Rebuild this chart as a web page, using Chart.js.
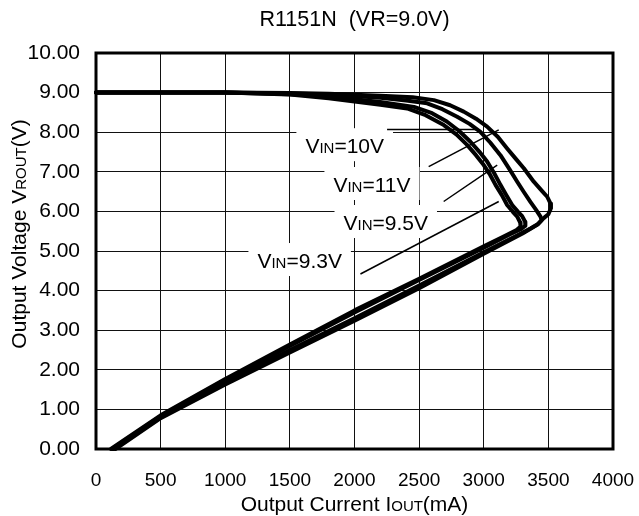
<!DOCTYPE html>
<html>
<head>
<meta charset="utf-8">
<script src="https://cdn.jsdelivr.net/npm/chart.js@4.4.1/dist/chart.umd.min.js"></script>
<style>
  html, body { margin: 0; padding: 0; background: #fff; }
  canvas { display: block; }
</style>
</head>
<body>
<canvas id="c" width="639" height="516"></canvas>
<script>
// ---------- data (Output current mA, Output voltage V) ----------
const xTicks = [0, 500, 1000, 1500, 2000, 2500, 3000, 3500, 4000];
const yTicks = [0, 1, 2, 3, 4, 5, 6, 7, 8, 9, 10];

const vin10_I = [0, 500, 1000, 1500, 1800, 2200, 2450, 2614, 2740, 2845, 2940, 3026, 3110, 3181, 3250, 3310, 3387, 3450, 3491, 3516, 3520, 3500, 3464, 3413, 3300, 3000, 2500, 2000, 1500, 1000, 500, 150];
const vin10_V = [9.0, 9.0, 9.0, 8.99, 8.97, 8.92, 8.88, 8.81, 8.68, 8.52, 8.34, 8.14, 7.88, 7.59, 7.32, 7.09, 6.75, 6.52, 6.37, 6.2, 6.08, 5.93, 5.83, 5.66, 5.44, 4.93, 4.06, 3.24, 2.44, 1.63, 0.78, 0];

const vin11_I = [0, 500, 1000, 1500, 1800, 2200, 2400, 2562, 2680, 2794, 2890, 2974, 3050, 3129, 3200, 3259, 3310, 3361, 3405, 3439, 3448, 3420, 3361, 3250, 3000, 2500, 2000, 1500, 1000, 500, 135];
const vin11_V = [9.0, 9.0, 9.0, 8.98, 8.95, 8.87, 8.8, 8.73, 8.58, 8.39, 8.21, 8.01, 7.74, 7.42, 7.06, 6.75, 6.49, 6.24, 6.04, 5.87, 5.78, 5.68, 5.57, 5.38, 4.97, 4.13, 3.3, 2.5, 1.69, 0.8, 0];

const vin95_I = [0, 500, 1000, 1500, 1800, 2200, 2460, 2600, 2714, 2810, 2897, 2965, 3026, 3080, 3129, 3175, 3220, 3262, 3297, 3320, 3322, 3290, 3200, 3000, 2500, 2000, 1500, 1000, 500, 125];
const vin95_V = [9.0, 9.0, 9.0, 8.96, 8.9, 8.76, 8.64, 8.48, 8.27, 8.03, 7.76, 7.51, 7.26, 6.97, 6.67, 6.41, 6.16, 6.0, 5.88, 5.74, 5.64, 5.56, 5.42, 5.08, 4.27, 3.45, 2.6, 1.74, 0.83, 0];

const vin93_I = [0, 500, 1000, 1500, 1800, 2200, 2407, 2550, 2691, 2790, 2871, 2940, 3000, 3050, 3091, 3140, 3181, 3225, 3259, 3282, 3285, 3250, 3150, 3000, 2500, 2000, 1500, 1000, 500, 115];
const vin93_V = [9.0, 9.0, 9.0, 8.95, 8.86, 8.69, 8.6, 8.43, 8.18, 7.94, 7.68, 7.42, 7.17, 6.92, 6.67, 6.41, 6.16, 5.99, 5.87, 5.72, 5.62, 5.52, 5.36, 5.12, 4.3, 3.5, 2.64, 1.77, 0.85, 0];

// curve labels and anchors (left x in mA, baseline in V)
const labelNames = ["VIN=10V", "VIN=11V", "VIN=9.5V", "VIN=9.3V"];
const labelAt_I = [1620, 1837, 1915, 1249];
const labelAt_V = [7.47, 6.49, 5.53, 4.57];
// leader lines: start (mA, V) -> end (mA, V)
const leaderFrom_I = [2574, 2690, 2046, 2252];
const leaderFrom_V = [7.13, 6.25, 4.42, 8.07];
const leaderTo_I = [3116, 3104, 3116, 2949];
const leaderTo_V = [8.06, 7.17, 6.25, 8.07];

const FONT = "'Liberation Sans', Arial, Helvetica, sans-serif";

function pts(xs, ys) { return xs.map((x, i) => ({ x: x, y: ys[i] })); }
function ds(label, xs, ys) {
  return { label: label, data: pts(xs, ys), showLine: true, borderColor: '#000', backgroundColor: '#000',
           borderWidth: 4, pointRadius: 0, fill: false, tension: 0, borderJoinStyle: 'round', borderCapStyle: 'round', clip: 4 };
}

function drawMixed(ctx, parts, x, y, align) {
  let w = 0;
  parts.forEach(p => { ctx.font = p[1] + 'px ' + FONT; w += ctx.measureText(p[0]).width; });
  let cx = align === 'center' ? x - w / 2 : x;
  ctx.textAlign = 'left';
  parts.forEach(p => { ctx.font = p[1] + 'px ' + FONT; ctx.fillText(p[0], cx, y); cx += ctx.measureText(p[0]).width; });
  return w;
}
function labelParts(name, big, small) {
  return [[name.slice(0, 1), big], [name.slice(1, 3), small], [name.slice(3), big]];
}

function noPad(s) { s.paddingLeft = 0; s.paddingRight = 0; s.paddingTop = 0; s.paddingBottom = 0; }

const decor = {
  id: 'decor',
  beforeDatasetsDraw(chart) {
    const ctx = chart.ctx, xs = chart.scales.x, ys = chart.scales.y;
    ctx.save();
    labelNames.forEach((n, i) => {
      const x = xs.getPixelForValue(labelAt_I[i]);
      const y = ys.getPixelForValue(labelAt_V[i]);
      let w = 0;
      labelParts(n, 21, 15).forEach(p => { ctx.font = p[1] + 'px ' + FONT; w += ctx.measureText(p[0]).width; });
      ctx.fillStyle = '#fff';
      ctx.fillRect(x - 9, y - 25, w + 18, 33);
    });
    ctx.restore();
  },
  afterDatasetsDraw(chart) {
    const ctx = chart.ctx, xs = chart.scales.x, ys = chart.scales.y, a = chart.chartArea;
    ctx.save();
    ctx.strokeStyle = '#000';
    ctx.lineWidth = 1.5;
    for (let i = 0; i < leaderFrom_I.length; i++) {
      ctx.beginPath();
      ctx.moveTo(xs.getPixelForValue(leaderFrom_I[i]), ys.getPixelForValue(leaderFrom_V[i]));
      ctx.lineTo(xs.getPixelForValue(leaderTo_I[i]), ys.getPixelForValue(leaderTo_V[i]));
      ctx.stroke();
    }
    ctx.fillStyle = '#000';
    ctx.textBaseline = 'alphabetic';
    labelNames.forEach((n, i) => {
      drawMixed(ctx, labelParts(n, 21, 15), xs.getPixelForValue(labelAt_I[i]), ys.getPixelForValue(labelAt_V[i]), 'left');
    });
    ctx.lineWidth = 3;
    ctx.strokeRect(a.left, a.top, a.right - a.left, a.bottom - a.top);
    ctx.restore();
  },
  afterDraw(chart) {
    const ctx = chart.ctx, a = chart.chartArea;
    const cx = (a.left + a.right) / 2;
    ctx.save();
    ctx.fillStyle = '#000';
    ctx.textBaseline = 'alphabetic';
    drawMixed(ctx, [["R1151N  (VR=9.0V)", 21.5]], cx, 26, 'center');
    drawMixed(ctx, [["Output Current I", 21], ["OUT", 15], ["(mA)", 21]], cx, 511, 'center');
    ctx.translate(26, 234);
    ctx.rotate(-Math.PI / 2);
    drawMixed(ctx, [["Output Voltage V", 21], ["ROUT", 15], ["(V)", 21]], 0, 0, 'center');
    ctx.restore();
  }
};

new Chart(document.getElementById('c'), {
  type: 'scatter',
  data: {
    datasets: [
      ds(labelNames[0], vin10_I, vin10_V),
      ds(labelNames[1], vin11_I, vin11_V),
      ds(labelNames[2], vin95_I, vin95_V),
      ds(labelNames[3], vin93_I, vin93_V)
    ]
  },
  options: {
    responsive: false,
    animation: false,
    devicePixelRatio: 1,
    layout: { padding: { top: 53, right: 26, left: 0, bottom: 0 } },
    plugins: { legend: { display: false }, tooltip: { enabled: false }, title: { display: false } },
    scales: {
      x: {
        type: 'linear', min: xTicks[0], max: xTicks[xTicks.length - 1],
        afterBuildTicks(s) { s.ticks = xTicks.map(v => ({ value: v })); },
        afterFit(s) { s.height = 67; noPad(s); },
        ticks: { color: '#000', font: { family: FONT, size: 19 }, padding: 20, maxRotation: 0, autoSkip: false,
                 callback: v => String(v) },
        grid: { color: '#111', lineWidth: 1, drawTicks: false },
        border: { display: false }
      },
      y: {
        type: 'linear', min: yTicks[0], max: yTicks[yTicks.length - 1],
        afterBuildTicks(s) { s.ticks = yTicks.map(v => ({ value: v })); },
        afterFit(s) { s.width = 96; noPad(s); },
        ticks: { color: '#000', font: { family: FONT, size: 21 }, padding: 16, autoSkip: false,
                 callback: v => Number(v).toFixed(2) },
        grid: { color: '#111', lineWidth: 1, drawTicks: false },
        border: { display: false }
      }
    }
  },
  plugins: [decor]
});
</script>
</body>
</html>
